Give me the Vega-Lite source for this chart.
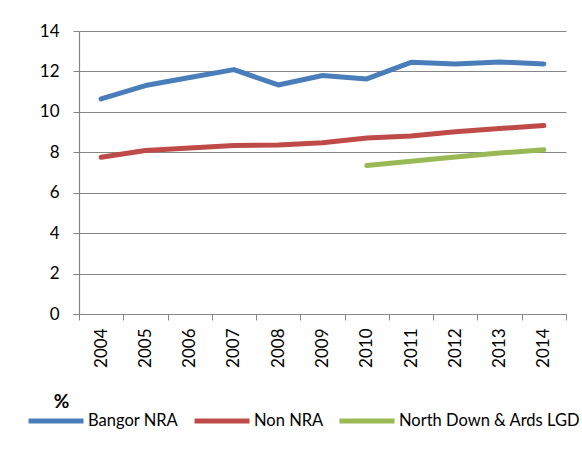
{
  "$schema": "https://vega.github.io/schema/vega-lite/v6.json",
  "width": 487,
  "height": 283,
  "autosize": {"type": "none"},
  "padding": {"left": 79, "top": 31, "right": 16, "bottom": 136},
  "background": "white",
  "data": {
    "values": [
      {"year": "2004", "series": "Bangor NRA", "value": 10.64},
      {"year": "2005", "series": "Bangor NRA", "value": 11.3},
      {"year": "2006", "series": "Bangor NRA", "value": 11.7},
      {"year": "2007", "series": "Bangor NRA", "value": 12.09},
      {"year": "2008", "series": "Bangor NRA", "value": 11.33},
      {"year": "2009", "series": "Bangor NRA", "value": 11.8},
      {"year": "2010", "series": "Bangor NRA", "value": 11.63},
      {"year": "2011", "series": "Bangor NRA", "value": 12.45},
      {"year": "2012", "series": "Bangor NRA", "value": 12.37},
      {"year": "2013", "series": "Bangor NRA", "value": 12.47},
      {"year": "2014", "series": "Bangor NRA", "value": 12.37},
      {"year": "2004", "series": "Non NRA", "value": 7.75},
      {"year": "2005", "series": "Non NRA", "value": 8.09},
      {"year": "2006", "series": "Non NRA", "value": 8.21},
      {"year": "2007", "series": "Non NRA", "value": 8.33},
      {"year": "2008", "series": "Non NRA", "value": 8.36},
      {"year": "2009", "series": "Non NRA", "value": 8.47},
      {"year": "2010", "series": "Non NRA", "value": 8.71},
      {"year": "2011", "series": "Non NRA", "value": 8.81},
      {"year": "2012", "series": "Non NRA", "value": 9.02},
      {"year": "2013", "series": "Non NRA", "value": 9.18},
      {"year": "2014", "series": "Non NRA", "value": 9.32},
      {"year": "2010", "series": "North Down & Ards LGD", "value": 7.35},
      {"year": "2011", "series": "North Down & Ards LGD", "value": 7.56},
      {"year": "2012", "series": "North Down & Ards LGD", "value": 7.77},
      {"year": "2013", "series": "North Down & Ards LGD", "value": 7.96},
      {"year": "2014", "series": "North Down & Ards LGD", "value": 8.13}
    ]
  },
  "mark": {"type": "line", "strokeWidth": 5, "strokeCap": "round", "strokeJoin": "round"},
  "encoding": {
    "x": {
      "field": "year",
      "type": "ordinal",
      "bandPosition": 0.5,
      "scale": {"type": "band", "paddingInner": 0, "paddingOuter": 0},
      "axis": {
        "title": "%",
        "titleX": -18,
        "titleY": 87,
        "titleAlign": "center",
        "titleBaseline": "middle",
        "titleFont": "Lato",
        "titleFontSize": 19,
        "titleFontWeight": "bold",
        "titleColor": "#000000",
        "labelAngle": -90,
        "labelAlign": "right",
        "labelBaseline": "middle",
        "labelFont": "Lato",
        "labelFontSize": 17,
        "labelColor": "#000000",
        "labelPadding": 8,
        "tickBand": "extent",
        "tickSize": 6,
        "tickColor": "#868686",
        "domainColor": "#868686",
        "domainWidth": 1.2,
        "grid": false
      }
    },
    "y": {
      "field": "value",
      "type": "quantitative",
      "scale": {"domain": [0, 14], "nice": false},
      "axis": {
        "title": null,
        "values": [0, 2, 4, 6, 8, 10, 12, 14],
        "labelFont": "Lato",
        "labelFontSize": 17,
        "labelColor": "#000000",
        "labelPadding": 14,
        "tickSize": 6,
        "tickColor": "#868686",
        "domainColor": "#868686",
        "domainWidth": 1.2,
        "grid": true,
        "gridColor": "#868686",
        "gridWidth": 1.2
      }
    },
    "color": {
      "field": "series",
      "type": "nominal",
      "scale": {
        "domain": ["Bangor NRA", "Non NRA", "North Down & Ards LGD"],
        "range": ["#4A7EBB", "#BE4B48", "#98B954"]
      },
      "legend": {
        "title": null,
        "orient": "none",
        "direction": "horizontal",
        "legendX": -53,
        "legendY": 360,
        "symbolType": "stroke",
        "symbolSize": 3025,
        "symbolStrokeWidth": 5,
        "labelFont": "Lato",
        "labelFontSize": 16.5,
        "labelColor": "#000000",
        "labelOffset": 2,
        "columnPadding": 5,
        "labelLimit": 300
      }
    }
  },
  "config": {"view": {"stroke": null}}
}
